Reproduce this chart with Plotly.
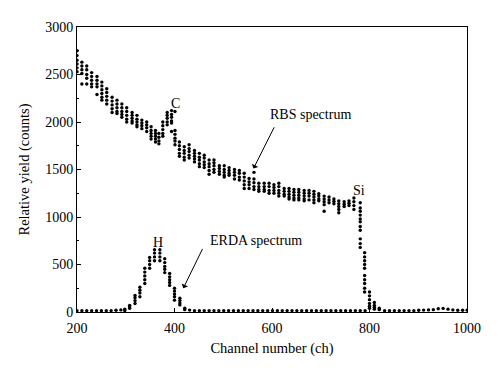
import plotly.graph_objects as go

# RBS spectrum: channel columns and the counts read in each column
rbs_channels = [200, 210, 220, 230, 241, 251, 261, 272, 282, 292, 302, 313, 323, 333, 343,
                352, 361, 368, 376, 385, 394, 401, 410, 420, 430, 441, 451, 461, 471, 481,
                492, 502, 512, 523, 533, 543, 553, 563, 573, 584, 594, 604, 614, 625, 635,
                645, 655, 666, 676, 686, 696, 707, 717, 727, 737, 748, 758, 768, 781, 790,
                800, 810, 820]
rbs_counts = [
    [2750, 2700, 2650, 2610, 2570, 2530],
    [2630, 2590, 2550, 2510, 2400],
    [2590, 2550, 2500, 2460, 2400],
    [2520, 2480, 2440, 2400, 2370],
    [2480, 2440, 2400, 2370, 2290],
    [2420, 2380, 2340, 2300, 2260, 2230],
    [2350, 2310, 2270, 2230, 2190],
    [2260, 2220, 2180, 2140, 2100],
    [2230, 2190, 2150, 2110, 2090],
    [2190, 2150, 2110, 2080, 2050],
    [2150, 2110, 2070, 2030, 2000],
    [2100, 2070, 2040, 2010, 1990],
    [2070, 2030, 2000, 1970, 1950],
    [2020, 1990, 1960, 1930],
    [2000, 1970, 1940, 1900],
    [1950, 1910, 1880, 1850, 1820],
    [1910, 1880, 1850, 1820, 1790],
    [1880, 1840, 1800, 1770],
    [2000, 1960, 1920, 1880, 1850],
    [2100, 2070, 2040, 2000, 1970],
    [2120, 2080, 2050, 2010, 1990, 1900],
    [2110, 1910, 1870, 1830, 1800, 1760],
    [1790, 1750, 1710, 1670, 1640],
    [1740, 1700, 1670, 1630, 1600],
    [1760, 1720, 1690, 1650, 1620],
    [1700, 1670, 1640, 1610, 1580],
    [1670, 1630, 1600, 1560, 1530],
    [1650, 1620, 1580, 1550, 1520],
    [1600, 1560, 1530, 1490, 1450],
    [1600, 1570, 1540, 1500, 1470],
    [1540, 1510, 1480, 1450],
    [1540, 1500, 1470, 1440, 1420],
    [1520, 1490, 1460, 1440],
    [1500, 1470, 1440, 1400],
    [1490, 1460, 1420, 1390],
    [1460, 1420, 1380, 1340, 1300],
    [1405, 1370, 1340, 1300],
    [1470, 1400, 1360, 1320, 1290],
    [1355, 1320, 1290, 1270],
    [1355, 1320, 1290, 1270],
    [1355, 1320, 1280, 1250],
    [1340, 1310, 1280, 1250],
    [1355, 1320, 1280, 1250, 1220],
    [1300, 1270, 1240, 1220],
    [1300, 1270, 1240, 1210, 1190],
    [1290, 1260, 1230, 1200, 1180],
    [1290, 1260, 1230, 1200, 1180],
    [1280, 1250, 1220, 1190, 1170],
    [1280, 1250, 1220, 1180],
    [1270, 1240, 1210, 1180, 1150],
    [1245, 1220, 1190, 1170],
    [1220, 1190, 1160, 1130, 1060],
    [1210, 1180, 1150],
    [1190, 1165, 1140],
    [1170, 1140, 1110, 1080, 1045],
    [1160, 1135, 1110],
    [1170, 1145, 1120],
    [1200, 1160, 1120, 1080],
    [1150, 1095, 1060, 1020, 980, 950, 900, 860, 770, 720, 680],
    [625, 580, 540, 500, 460, 385, 340, 300, 250, 210],
    [210, 170, 130, 90, 60, 40],
    [100, 70, 50, 30],
    [40, 25],
]

# ERDA spectrum (incl. baseline over the whole range)
erda_channels = [200, 210, 220, 230, 240, 250, 260, 270, 280, 290, 298, 308, 319, 329, 339,
                 349, 359, 370, 380, 390, 400, 411, 421, 431, 441, 451, 461, 471, 481, 491,
                 501, 511, 521, 531, 541, 551, 561, 571, 581, 591, 601, 611, 621, 631, 641,
                 651, 661, 671, 681, 691, 701, 711, 721, 731, 741, 751, 761, 771, 781, 791,
                 831, 841, 851, 861, 871, 881, 891, 901, 911, 921, 931, 941, 951, 961, 971,
                 981, 991, 1000]
erda_counts = [
    [15], [15], [15], [15], [15], [15], [15], [15], [18], [22],
    [30, 15],
    [70, 55, 40],
    [175, 150, 120, 90],
    [260, 230, 200, 160],
    [460, 420, 380, 340, 300],
    [575, 540, 500, 460],
    [655, 620, 580, 540],
    [655, 620, 580, 540],
    [560, 520, 480, 450, 415],
    [405, 370, 340, 310, 280],
    [250, 220, 190, 160, 125],
    [145, 120, 95, 75],
    [40, 25],
    [20], [15], [15], [15], [15], [15], [15],
    [15], [15], [15], [15], [15], [15], [15], [15], [15], [15],
    [15], [15], [15], [15], [15], [15], [15], [15], [15], [15],
    [15], [15], [15], [15], [15], [15], [15], [15], [15], [15],
    [15], [15], [15], [15], [15], [15], [15], [18], [20], [22],
    [25], [35], [38], [30], [22], [18], [18], [20],
]

x_ticks = [200, 400, 600, 800, 1000]
y_ticks = [0, 500, 1000, 1500, 2000, 2500, 3000]

def flatten(chs, cols):
    xs, ys = [], []
    for c, vals in zip(chs, cols):
        for v in vals:
            xs.append(c)
            ys.append(v)
    return xs, ys

rx, ry = flatten(rbs_channels, rbs_counts)
ex, ey = flatten(erda_channels, erda_counts)

FONT = "Liberation Serif, Times New Roman, serif"
fig = go.Figure()
fig.add_trace(go.Scatter(x=rx, y=ry, mode="markers", name="RBS",
                         marker=dict(color="black", size=3.4), showlegend=False))
fig.add_trace(go.Scatter(x=ex, y=ey, mode="markers", name="ERDA",
                         marker=dict(color="black", size=3.4), showlegend=False))

txt = dict(font=dict(family=FONT, size=14, color="black"), showarrow=False,
           xref="x", yref="y")
fig.add_annotation(x=402, y=2200, text="C", **txt)
fig.add_annotation(x=778, y=1275, text="Si", **txt)
fig.add_annotation(x=366, y=735, text="H", **txt)
fig.add_annotation(x=678, y=2080, text="RBS spectrum", **txt)
fig.add_annotation(x=567, y=750, text="ERDA spectrum", **txt)

arr = dict(showarrow=True, arrowhead=1, arrowsize=1.2, arrowwidth=1, arrowcolor="black",
           xref="x", yref="y", axref="x", ayref="y", text="")
fig.add_annotation(x=562, y=1510, ax=606, ay=1960, **arr)
fig.add_annotation(x=418, y=250, ax=459, ay=680, **arr)

axis_common = dict(showline=True, linecolor="black", linewidth=1, mirror=True,
                   ticks="inside", ticklen=4, tickcolor="black", showgrid=False,
                   zeroline=False, tickfont=dict(family=FONT, size=14, color="black"))
fig.update_xaxes(range=[200, 1000], tickvals=x_ticks, ticklabelstandoff=3,
                 minor=dict(dtick=100, ticks="inside", ticklen=2, tickcolor="black"),
                 title=dict(text="Channel number (ch)", font=dict(family=FONT, size=14.5, color="black"),
                            standoff=8),
                 **axis_common)
fig.update_yaxes(range=[0, 3000], tickvals=y_ticks,
                 minor=dict(dtick=250, ticks="inside", ticklen=2, tickcolor="black"),
                 title=dict(text="Relative yield (counts)", font=dict(family=FONT, size=14.5, color="black"),
                            standoff=12),
                 **axis_common)
fig.update_layout(width=500, height=373, margin=dict(l=69, r=41, t=16, b=69),
                  plot_bgcolor="white", paper_bgcolor="white")
fig.write_html("out.html")
